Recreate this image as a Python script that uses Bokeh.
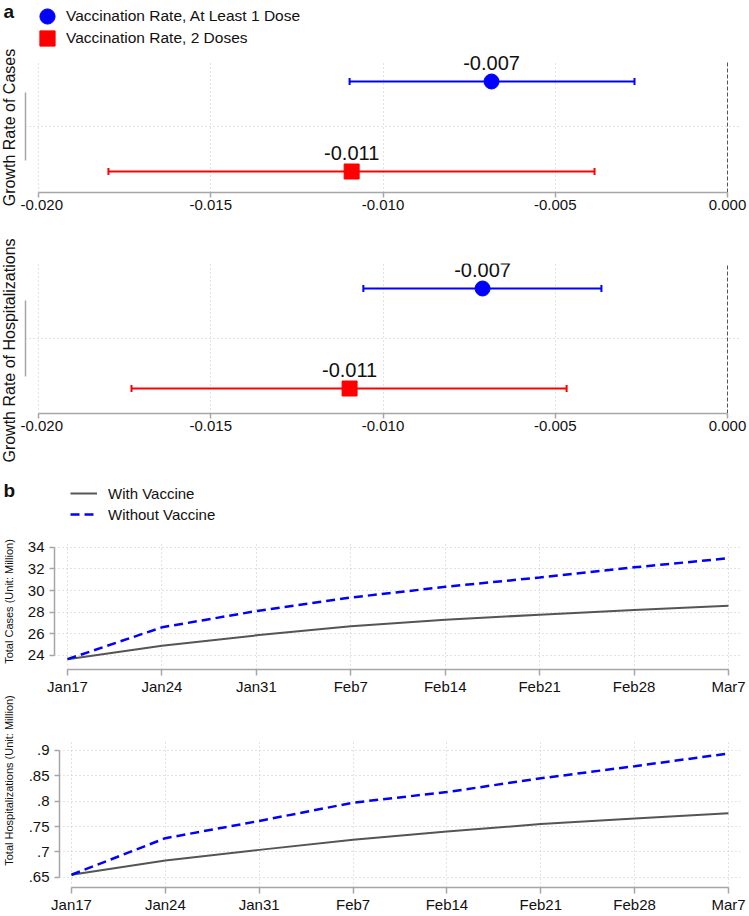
import math
from bokeh.plotting import figure
from bokeh.models import (ColumnDataSource, Range1d, FixedTicker, NumeralTickFormatter,
                          Whisker, TeeHead, Legend, LegendItem, Label, Grid)
from bokeh.layouts import row, column
from bokeh.core.properties import value
from bokeh.embed import file_html
from bokeh.resources import INLINE

FONT = "Liberation Sans"
GRID = "#c4c4c4"
AXIS = "#a6a6a6"
TXT = "#111111"
HAS_CB = "cross_bounds" in Grid.properties()

# ---------------- Panel a data ----------------
series_names = ["Vaccination Rate, At Least 1 Dose", "Vaccination Rate, 2 Doses"]
series_colors = ["#0000FF", "#FF0000"]
series_markers = ["circle", "square"]
series_pos = [2, 1]
cases_est = [-0.00685, -0.01091]
cases_lo = [-0.01097, -0.01797]
cases_hi = [-0.00270, -0.00386]
hosp_est = [-0.00711, -0.01097]
hosp_lo = [-0.01057, -0.01730]
hosp_hi = [-0.00366, -0.00467]
coef_ticks = [-0.020, -0.015, -0.010, -0.005, 0.000]
zero_line = [0.0]

# ---------------- Panel b data ----------------
dates = ["Jan17", "Jan24", "Jan31", "Feb7", "Feb14", "Feb21", "Feb28", "Mar7"]
week_idx = [0, 1, 2, 3, 4, 5, 6, 7]
cases_with = [23.66, 24.90, 25.86, 26.70, 27.30, 27.77, 28.20, 28.60]
cases_without = [23.66, 26.60, 28.10, 29.35, 30.34, 31.20, 32.14, 32.98]
hosp_with = [0.655, 0.683, 0.704, 0.724, 0.740, 0.755, 0.766, 0.776]
hosp_without = [0.655, 0.727, 0.761, 0.797, 0.818, 0.845, 0.869, 0.894]
cases_ticks = [24, 26, 28, 30, 32, 34]
cases_tick_labels = ["24", "26", "28", "30", "32", "34"]
hosp_ticks = [0.65, 0.70, 0.75, 0.80, 0.85, 0.90]
hosp_tick_labels = [".65", ".7", ".75", ".8", ".85", ".9"]
legend_b = ["With Vaccine", "Without Vaccine"]

FIG_W = 728


def style_axis(ax, size="15px"):
    ax.axis_line_color = AXIS
    ax.axis_line_width = 1.5
    ax.major_tick_line_color = AXIS
    ax.major_tick_line_width = 1.5
    ax.minor_tick_line_color = None
    ax.major_label_text_font = FONT
    ax.major_label_text_font_size = size
    ax.major_label_text_color = TXT


def vgrid(p, ticks, lo, hi, color=GRID, dash="1 3"):
    if HAS_CB:
        g = Grid(dimension=0, ticker=FixedTicker(ticks=ticks), cross_bounds=(lo, hi),
                 grid_line_color=color, grid_line_dash=dash, grid_line_width=1)
        p.add_layout(g, "center")
    else:
        n = len(ticks)
        p.segment(x0=ticks, y0=[lo] * n, x1=ticks, y1=[hi] * n, line_color=color,
                  line_dash=dash, line_width=1)


def coef_panel(est, lo, hi, height, btop, bbottom, y0, y1, grid_top, legend_vy):
    p = figure(width=FIG_W, height=height, x_range=Range1d(-0.020377, 0.000377),
               y_range=Range1d(y0, y1), output_backend="svg", toolbar_location=None,
               min_border_left=5, min_border_right=8, min_border_top=btop,
               min_border_bottom=bbottom)
    p.frame_align = False
    p.outline_line_color = None
    style_axis(p.xaxis[0])
    p.xaxis.ticker = FixedTicker(ticks=coef_ticks)
    p.xaxis.formatter = NumeralTickFormatter(format="0.000")
    p.xaxis.bounds = (coef_ticks[0], coef_ticks[-1])
    p.xaxis.major_tick_out = 5
    p.xaxis.major_tick_in = 0
    p.xaxis.major_label_standoff = 2
    style_axis(p.yaxis[0], "0px")
    p.yaxis.ticker = FixedTicker(ticks=[])
    p.yaxis.major_tick_out = 0
    p.yaxis.major_tick_in = 0
    p.yaxis.major_label_standoff = 0
    p.yaxis.axis_label_standoff = 0
    p.yaxis.bounds = (1.12, 1.88)
    p.xgrid.visible = False
    p.ygrid.ticker = FixedTicker(ticks=[1.5])
    p.ygrid.grid_line_color = GRID
    p.ygrid.grid_line_dash = "1 3"
    vgrid(p, coef_ticks[:-1], y0, grid_top)
    vgrid(p, zero_line, y0, grid_top, color="#555555", dash="4 2")
    rs = []
    for i in range(len(series_names)):
        c = series_colors[i]
        src = ColumnDataSource(dict(x=[est[i]], y=[series_pos[i]], lo=[lo[i]], hi=[hi[i]],
                                    lab=[f"{est[i]:.3f}"]))
        p.add_layout(Whisker(source=src, base="y", lower="lo", upper="hi", dimension="width",
                             line_color=c, line_width=2,
                             lower_head=TeeHead(size=7, line_color=c, line_width=2),
                             upper_head=TeeHead(size=7, line_color=c, line_width=2)))
        r = p.scatter("x", "y", source=src, marker=series_markers[i], size=15,
                      fill_color=c, line_color=c)
        rs.append(r)
        p.text("x", "y", text="lab", source=src, text_font=value(FONT),
               text_font_size="20px", text_align="center", text_baseline="alphabetic",
               y_offset=-19, text_color=TXT)
    if legend_vy is not None:
        for i in range(len(series_names)):
            lg = Legend(items=[LegendItem(label=series_names[i], renderers=[rs[i]])],
                        location=(3, legend_vy[i]), glyph_width=38, glyph_height=38,
                        label_height=38, label_standoff=0, padding=0, margin=0,
                        border_line_alpha=0, background_fill_alpha=0,
                        label_text_font=FONT, label_text_font_size="15.5px",
                        label_text_color=TXT)
            p.add_layout(lg, "center")
    return p


def line_panel(w_vals, wo_vals, height, btop, bbottom, bleft, x0, x1, y0, y1, grid_top,
               yticks, ylabels, legend_loc):
    p = figure(width=FIG_W, height=height, x_range=Range1d(x0, x1), y_range=Range1d(y0, y1),
               output_backend="svg", toolbar_location=None, min_border_left=bleft,
               min_border_right=8, min_border_top=btop, min_border_bottom=bbottom)
    p.frame_align = False
    p.outline_line_color = None
    style_axis(p.xaxis[0])
    p.xaxis.ticker = FixedTicker(ticks=week_idx)
    p.xaxis.major_label_overrides = {i: d for i, d in zip(week_idx, dates)}
    p.xaxis.bounds = (week_idx[0], week_idx[-1])
    p.xaxis.major_tick_out = 6
    p.xaxis.major_tick_in = 0
    p.xaxis.major_label_standoff = 2
    style_axis(p.yaxis[0])
    p.yaxis.ticker = FixedTicker(ticks=yticks)
    p.yaxis.major_label_overrides = {t: l for t, l in zip(yticks, ylabels)}
    p.yaxis.bounds = (yticks[0], yticks[-1])
    p.yaxis.major_tick_out = 5
    p.yaxis.major_tick_in = 0
    p.yaxis.major_label_standoff = 5
    p.xgrid.visible = False
    p.ygrid.ticker = FixedTicker(ticks=yticks)
    p.ygrid.grid_line_color = GRID
    p.ygrid.grid_line_dash = "1 3"
    vgrid(p, week_idx, y0, grid_top)
    src = ColumnDataSource(dict(x=week_idx, w=w_vals, wo=wo_vals))
    r1 = p.line("x", "w", source=src, line_color="#555555", line_width=2)
    r2 = p.line("x", "wo", source=src, line_color="#0000FF", line_width=2.5, line_dash="9 5")
    if legend_loc is not None:
        lg = Legend(items=[LegendItem(label=legend_b[0], renderers=[r1]),
                           LegendItem(label=legend_b[1], renderers=[r2])],
                    location=legend_loc, glyph_width=27, glyph_height=20, label_height=20,
                    spacing=1, label_standoff=11, padding=0, margin=0,
                    border_line_alpha=0, background_fill_alpha=0,
                    label_text_font=FONT, label_text_font_size="15px",
                    label_text_color=TXT)
        p.add_layout(lg, "center")
    return p


# A1: frame spans the canvas down to the axis (192 px at 90 px/unit)
a1 = coef_panel(cases_est, cases_lo, cases_hi, 218, 0, 26, 0.7667, 2.9, 2.211, (157, 135))
a2 = coef_panel(hosp_est, hosp_lo, hosp_hi, 222, 45, 27, 0.75, 2.25, 2.25, None)
# B1: frame spans the canvas down to the axis (229 px at 10.83 px/unit)
b1 = line_panel(cases_with, cases_without, 260, 0, 31, 34, -0.1377, 7.127, 22.707, 43.852,
                34.5, cases_ticks, cases_tick_labels, (16, 145))
b2 = line_panel(hosp_with, hosp_without, 215, 40, 27, 39, -0.128, 7.128, 0.62984, 0.91958,
                0.91958, hosp_ticks, hosp_tick_labels, None)

TOTAL_H = 218 + 222 + 260 + 215
LAB_W = 20
lab = figure(width=LAB_W, height=TOTAL_H, x_range=Range1d(0, LAB_W),
             y_range=Range1d(TOTAL_H, 0), output_backend="svg", toolbar_location=None,
             min_border=0, x_axis_location=None, y_axis_location=None)
lab.frame_align = False
lab.grid.visible = False
lab.outline_line_color = None
lab.add_layout(Label(x=3, y=11, text="a", text_font=FONT, text_font_size="19px",
                     text_font_style="bold", text_align="left", text_baseline="middle",
                     text_color=TXT))
lab.add_layout(Label(x=3, y=490, text="b", text_font=FONT, text_font_size="19px",
                     text_font_style="bold", text_align="left", text_baseline="middle",
                     text_color=TXT))
for txt, xx, yy, fs in [("Growth Rate of Cases", 9, 127, "16px"),
                        ("Growth Rate of Hospitalizations", 9, 350, "16px"),
                        ("Total Cases (Unit: Million)", 8, 601, "11px"),
                        ("Total Hospitalizations (Unit: Million)", 8, 780, "11px")]:
    lab.add_layout(Label(x=xx, y=yy, text=txt, angle=math.pi / 2,
                         text_font=FONT, text_font_size=fs, text_align="center",
                         text_baseline="middle", text_color=TXT))

layout = row(lab, column(a1, a2, b1, b2))
open("out.html", "w").write(file_html(layout, INLINE))
